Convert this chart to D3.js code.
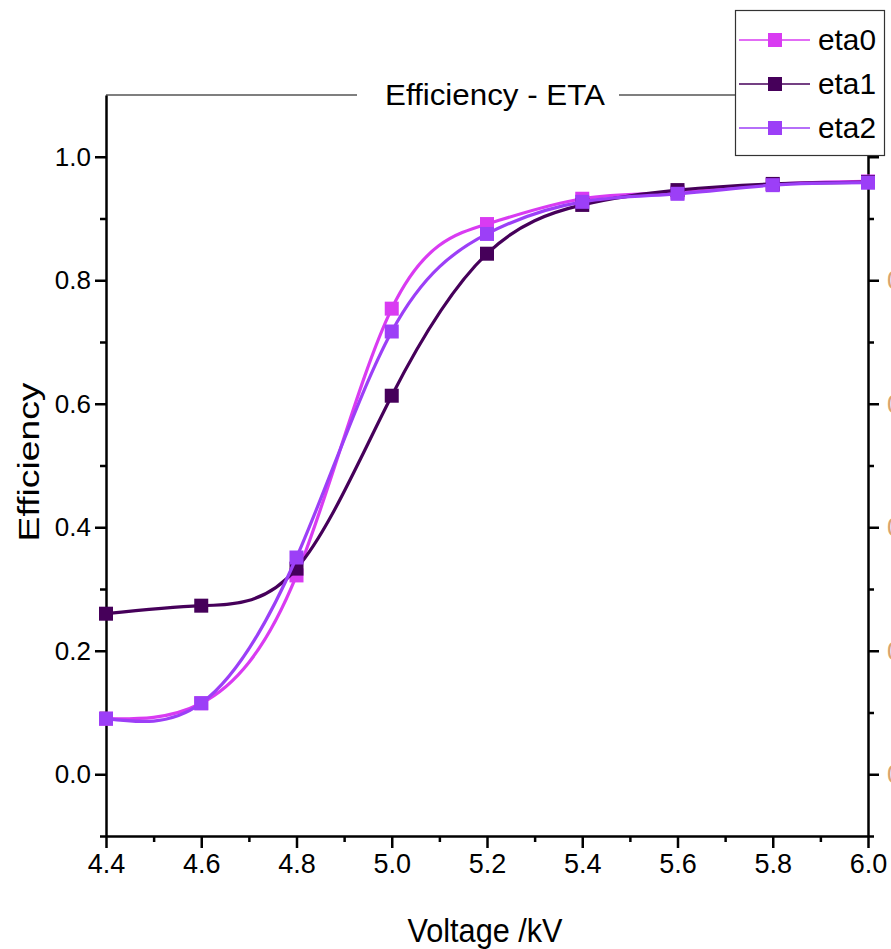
<!DOCTYPE html>
<html>
<head>
<meta charset="utf-8">
<script src="https://cdn.jsdelivr.net/npm/d3@7"></script>
<style>
  body { margin: 0; background: #fff; }
  svg { display: block; font-family: "Liberation Sans", Arial, sans-serif; }
</style>
</head>
<body>
<div id="chart"></div>
<script>
// data
var voltage = [4.4, 4.6, 4.8, 5.0, 5.2, 5.4, 5.6, 5.8, 6.0];
var seriesNames = ["eta0", "eta1", "eta2"];
var eta0 = [0.090, 0.115, 0.322, 0.754, 0.891, 0.932, 0.942, 0.955, 0.960];
var eta1 = [0.260, 0.273, 0.333, 0.613, 0.843, 0.922, 0.946, 0.956, 0.959];
var eta2 = [0.090, 0.115, 0.351, 0.717, 0.875, 0.927, 0.940, 0.954, 0.958];
var colors = ["#d93bf2", "#46005a", "#9c3ff7"];
var xTicks = [4.4, 4.6, 4.8, 5.0, 5.2, 5.4, 5.6, 5.8, 6.0];
var yTicks = [0.0, 0.2, 0.4, 0.6, 0.8, 1.0];

var width = 891, height = 949;

var svg = d3.select("#chart").append("svg")
  .attr("width", width)
  .attr("height", height);

var x = d3.scaleLinear().domain([4.4, 6.0]).range([106, 868]);
var y = d3.scaleLinear().domain([-0.1, 1.1]).range([836, 95]);

var xMinor = d3.range(4.5, 6.0, 0.2);
var yMinor = [-0.1, 0.1, 0.3, 0.5, 0.7, 0.9];

// top frame line (title and legend sit on top of it)
svg.append("line")
  .attr("x1", x(4.4)).attr("x2", x(6.0))
  .attr("y1", y(1.1)).attr("y2", y(1.1))
  .attr("stroke", "#000").attr("stroke-width", 1.2);

// bottom axis
var gx = svg.append("g").attr("transform", "translate(0," + y(-0.1) + ")");
gx.call(d3.axisBottom(x).tickValues(xTicks).tickSize(12).tickSizeOuter(0).tickPadding(6)
  .tickFormat(d3.format(".1f")));
gx.append("g").call(d3.axisBottom(x).tickValues(xMinor).tickSize(6).tickFormat(""))
  .select(".domain").remove();

// left axis
var gy = svg.append("g").attr("transform", "translate(" + x(4.4) + ",0)");
gy.call(d3.axisLeft(y).tickValues(yTicks).tickSize(11).tickSizeOuter(0).tickPadding(4)
  .tickFormat(d3.format(".1f")));
gy.append("g").call(d3.axisLeft(y).tickValues(yMinor).tickSize(6).tickFormat(""))
  .select(".domain").remove();

// right axis, labels run off the page edge
var gr = svg.append("g").attr("transform", "translate(" + x(6.0) + ",0)");
gr.call(d3.axisRight(y).tickValues(yTicks).tickSize(11).tickSizeOuter(0).tickPadding(8)
  .tickFormat(function(d) { return d < 1 ? d3.format(".1f")(d) : ""; }));
gr.append("g").call(d3.axisRight(y).tickValues(yMinor).tickSize(6).tickFormat(""))
  .select(".domain").remove();
gr.selectAll("text").attr("fill", "#d9a46e");

svg.selectAll(".domain, .tick line").attr("stroke", "#000").attr("stroke-width", 2.5);
svg.selectAll(".tick text").attr("font-size", 26).attr("fill", function() {
  return d3.select(this).attr("fill") === "#d9a46e" ? "#d9a46e" : "#000";
});
gx.selectAll(".tick text").attr("font-size", 27);

// lines + markers
var all = [eta0, eta1, eta2];
var line = d3.line()
  .x(function(d) { return x(d[0]); })
  .y(function(d) { return y(d[1]); })
  .curve(d3.curveNatural);

all.forEach(function(vals, i) {
  var pts = voltage.map(function(v, j) { return [v, vals[j]]; });
  var g = svg.append("g").attr("class", "series " + seriesNames[i]);
  g.append("path")
    .attr("d", line(pts))
    .attr("fill", "none")
    .attr("stroke", colors[i])
    .attr("stroke-width", 3.2);
  g.selectAll("rect").data(pts).enter().append("rect")
    .attr("x", function(d) { return x(d[0]) - 7; })
    .attr("y", function(d) { return y(d[1]) - 7; })
    .attr("width", 14).attr("height", 14)
    .attr("fill", colors[i]);
});

// title with white knock-out
var title = svg.append("g").attr("transform", "translate(495," + y(1.1) + ")");
title.append("rect").attr("x", -138).attr("y", -20).attr("width", 262).attr("height", 40).attr("fill", "#fff");
title.append("text")
  .attr("text-anchor", "middle").attr("x", 0).attr("y", 10)
  .attr("font-size", 29)
  .attr("textLength", 220).attr("lengthAdjust", "spacingAndGlyphs")
  .text("Efficiency - ETA");

// axis titles
svg.append("text")
  .attr("x", 485).attr("y", 942)
  .attr("text-anchor", "middle")
  .attr("font-size", 34)
  .attr("textLength", 155).attr("lengthAdjust", "spacingAndGlyphs")
  .text("Voltage /kV");

svg.append("text")
  .attr("transform", "translate(39,462) rotate(-90)")
  .attr("text-anchor", "middle")
  .attr("font-size", 30)
  .attr("textLength", 159).attr("lengthAdjust", "spacingAndGlyphs")
  .text("Efficiency");

// legend
var legend = svg.append("g").attr("class", "legend");
legend.append("rect")
  .attr("x", 735.5).attr("y", 10.5).attr("width", 149).attr("height", 145)
  .attr("fill", "#fff").attr("stroke", "#333").attr("stroke-width", 1.2);

var rowY = d3.scalePoint().domain(seriesNames).range([40, 128]);
seriesNames.forEach(function(name, i) {
  var ry = rowY(name);
  legend.append("line")
    .attr("x1", 739).attr("x2", 810).attr("y1", ry).attr("y2", ry)
    .attr("stroke", colors[i]).attr("stroke-width", 1.5);
  legend.append("rect")
    .attr("x", 768).attr("y", ry - 7).attr("width", 14).attr("height", 14)
    .attr("fill", colors[i]);
  legend.append("text")
    .attr("x", 818).attr("y", ry + 10)
    .attr("font-size", 29)
    .attr("textLength", 58).attr("lengthAdjust", "spacingAndGlyphs")
    .text(name);
});
</script>
</body>
</html>
